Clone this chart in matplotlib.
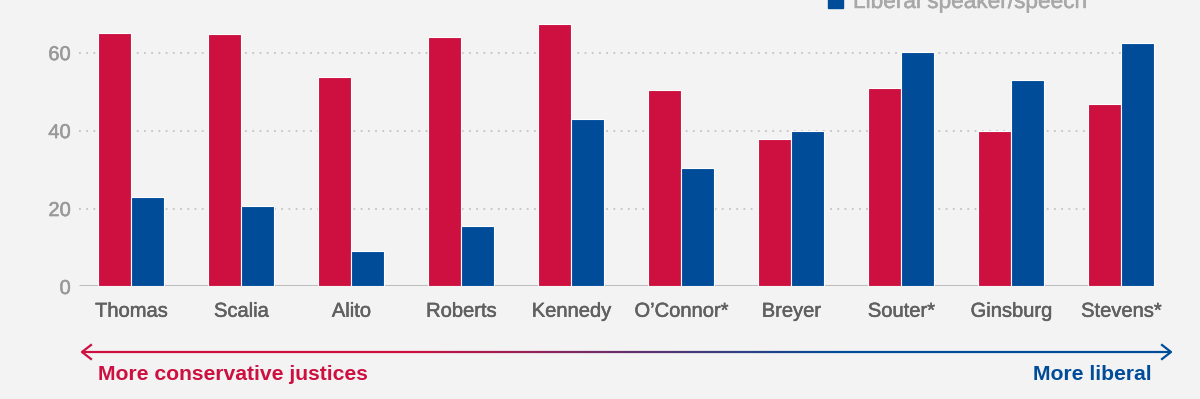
import numpy as np
import matplotlib
matplotlib.use('Agg')
import matplotlib.pyplot as plt
import matplotlib.patheffects as pe
from matplotlib.collections import LineCollection
from matplotlib.lines import Line2D
from matplotlib.colors import to_rgb

# data
justices = ['Thomas', 'Scalia', 'Alito', 'Roberts', 'Kennedy',
            'O\u2019Connor*', 'Breyer', 'Souter*', 'Ginsburg', 'Stevens*']
conservative = [65.1, 64.9, 53.8, 64.0, 67.4, 50.4, 37.8, 51.0, 39.9, 46.8]
liberal = [23.0, 20.7, 9.1, 15.5, 43.0, 30.4, 39.9, 60.1, 53.0, 62.6]
y_ticks = [0, 20, 40, 60]

red = '#cd1040'
blue = '#004c99'
bg = '#f3f3f3'

plt.rcParams['font.family'] = ['Liberation Sans', 'DejaVu Sans']

fig = plt.figure(figsize=(12, 3.99), dpi=100, facecolor=bg)
ax = fig.add_axes([79 / 1200, 0.282, 0.9008, 0.6837], facecolor=bg)

x = np.arange(len(justices))
w = 0.3
ax.bar(x - w / 2, conservative, w, color=red, edgecolor='white', linewidth=0.8, zorder=3)
ax.bar(x + w / 2, liberal, w, color=blue, edgecolor='white', linewidth=0.8, zorder=3)

ax.set_xlim(-0.477, 9.35)
ax.set_ylim(0, 70)

# grid and baseline
for t in y_ticks[1:]:
    ax.plot([-0.477, 9.0], [t, t], color='#c4c4c4', linestyle=(0, (1, 3)), linewidth=1.3, zorder=1)
ax.plot([-0.477, 9.0], [0, 0], color='#bdbdbd', linewidth=2.2, zorder=2, solid_capstyle='butt')

for s in ax.spines.values():
    s.set_visible(False)
ax.set_yticks(y_ticks)
ax.set_xticks(x)
ax.set_xticklabels(justices, fontsize=14.5, color='#606060')
ax.tick_params(axis='y', length=0, pad=6, labelsize=14.5, labelcolor='#999999')
ax.tick_params(axis='x', length=0, pad=11)

# light stroke for the medium weight of the original
for lab in ax.get_xticklabels():
    lab.set_path_effects([pe.withStroke(linewidth=0.35, foreground='#606060')])
for lab in ax.get_yticklabels():
    lab.set_path_effects([pe.withStroke(linewidth=0.35, foreground='#999999')])

# legend entry (top of the legend is cut off in the reference)
fig.patches.append(plt.Rectangle((828 / 1200, 1 - 8 / 399), 15 / 1200, 15 / 399,
                                 transform=fig.transFigure, color=blue, clip_on=False))
leg = fig.text(853 / 1200, 1 - 8 / 399, 'Liberal speaker/speech', fontsize=16.3,
               color='#a8a8a8', va='baseline', ha='left')
leg.set_path_effects([pe.withStroke(linewidth=0.35, foreground='#a8a8a8')])

# gradient arrow
y_arr = 1 - 352 / 399
x0, x1 = 82 / 1200, 1171 / 1200
n = 300
xs = np.linspace(x0, x1, n + 1)
segs = [[(xs[i], y_arr), (xs[i + 1], y_arr)] for i in range(n)]
r0, b0 = np.array(to_rgb(red)), np.array(to_rgb(blue))
frac = np.clip((np.linspace(0, 1, n) - 0.3) / 0.4, 0, 1)
cols = [r0 * (1 - f) + b0 * f for f in frac]
lc = LineCollection(segs, colors=cols, linewidths=1.6, transform=fig.transFigure)
fig.add_artist(lc)
hx, hy = 9 / 1200, 7 / 399
fig.add_artist(Line2D([x0 + hx, x0, x0 + hx], [y_arr + hy, y_arr, y_arr - hy],
                      color=red, linewidth=1.6, transform=fig.transFigure))
fig.add_artist(Line2D([x1 - hx, x1, x1 - hx], [y_arr + hy, y_arr, y_arr - hy],
                      color=blue, linewidth=1.6, transform=fig.transFigure))

fig.text(98 / 1200, 1 - 374 / 399, 'More conservative justices', fontsize=15.2,
         fontweight='bold', color=red, ha='left', va='center')
fig.text(1152 / 1200, 1 - 374 / 399, 'More liberal', fontsize=15.2,
         fontweight='bold', color=blue, ha='right', va='center')

fig.savefig('out.png', dpi=100, facecolor=bg)
